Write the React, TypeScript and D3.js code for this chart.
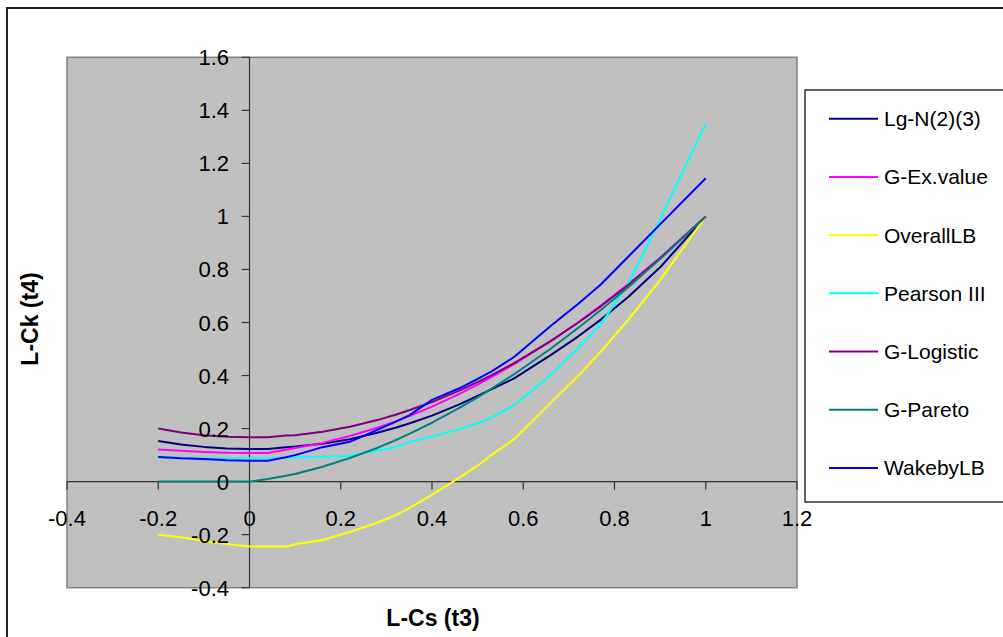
import React from "react";
import * as d3 from "d3";

const T3 = [-0.2, -0.15, -0.1, -0.05, 0, 0.04, 0.08, 0.1, 0.16, 0.22, 0.28, 0.32, 0.35, 0.4, 0.46, 0.5, 0.53, 0.58, 0.66, 0.72, 0.77, 0.83, 0.9, 1.0];

const lgN = [0.153, 0.14, 0.131, 0.125, 0.123, 0.123, 0.13, 0.132, 0.143, 0.16, 0.184, 0.203, 0.219, 0.249, 0.291, 0.323, 0.348, 0.389, 0.477, 0.547, 0.611, 0.696, 0.808, 1.0];
const gExValue = [0.121, 0.116, 0.112, 0.109, 0.108, 0.108, 0.12, 0.127, 0.146, 0.172, 0.203, 0.227, 0.247, 0.283, 0.331, 0.366, 0.394, 0.443, 0.53, 0.6, 0.664, 0.744, 0.844, 1.0];
const overallLB = [-0.2, -0.21, -0.224, -0.235, -0.245, -0.245, -0.245, -0.236, -0.22, -0.19, -0.155, -0.127, -0.1, -0.05, 0.015, 0.06, 0.1, 0.16, 0.297, 0.398, 0.49, 0.61, 0.76, 1.0];
const pearson3 = [0.094, 0.09, 0.088, 0.088, 0.088, 0.088, 0.09, 0.092, 0.094, 0.097, 0.117, 0.13, 0.149, 0.17, 0.198, 0.22, 0.241, 0.288, 0.402, 0.503, 0.594, 0.745, 0.99, 1.35];
const gLogistic = [0.2, 0.185, 0.175, 0.169, 0.167, 0.167, 0.174, 0.175, 0.188, 0.207, 0.232, 0.252, 0.269, 0.3, 0.343, 0.375, 0.401, 0.447, 0.53, 0.599, 0.661, 0.741, 0.842, 1.0];
const gPareto = [0, 0, 0, 0, 0, 0.01, 0.022, 0.029, 0.056, 0.089, 0.127, 0.156, 0.18, 0.222, 0.278, 0.318, 0.35, 0.405, 0.501, 0.579, 0.647, 0.733, 0.839, 1.0];
const wakebyLB = [0.093, 0.088, 0.085, 0.081, 0.079, 0.079, 0.092, 0.1, 0.13, 0.15, 0.195, 0.225, 0.25, 0.308, 0.352, 0.387, 0.415, 0.47, 0.587, 0.67, 0.743, 0.848, 0.97, 1.144];

const seriesNames = ["Lg-N(2)(3)", "G-Ex.value", "OverallLB", "Pearson III", "G-Logistic", "G-Pareto", "WakebyLB"];
const seriesValues = [lgN, gExValue, overallLB, pearson3, gLogistic, gPareto, wakebyLB];
const seriesColors = ["#000080", "#FF00FF", "#FFFF00", "#00FFFF", "#800080", "#008080", "#0000FF"];

const xTicks = [-0.4, -0.2, 0, 0.2, 0.4, 0.6, 0.8, 1, 1.2];
const yTicks = [-0.4, -0.2, 0, 0.2, 0.4, 0.6, 0.8, 1, 1.2, 1.4, 1.6];

const FONT = "'Liberation Sans', Arial, Helvetica, sans-serif";

export default function App() {
  const plotL = 67, plotR = 797, plotT = 57.3, plotB = 587.7;
  const x = d3.scaleLinear().domain([-0.4, 1.2]).range([plotL, plotR]);
  const y = d3.scaleLinear().domain([-0.4, 1.6]).range([plotB, plotT]);
  const line = d3.line<[number, number]>().x((d) => x(d[0])).y((d) => y(d[1]));
  const x0 = x(0), y0 = y(0);

  const legX = 805, legY = 90, legB = 502;
  const legStart = 118.7, legStep = 58.2;

  return (
    <svg width={1003} height={637} style={{ position: "absolute", left: 0, top: 0 }} fontFamily={FONT}>
      <rect x={0} y={0} width={1003} height={637} fill="#fff" />
      <rect x={7} y={8} width={1010} height={650} fill="none" stroke="#222" strokeWidth={2} />
      <rect x={plotL} y={plotT} width={plotR - plotL} height={plotB - plotT} fill="#C0C0C0" stroke="#808080" strokeWidth={1.5} />
      {/* axes */}
      <line x1={plotL} x2={plotR} y1={y0} y2={y0} stroke="#333" strokeWidth={1.2} />
      <line x1={x0} x2={x0} y1={plotT} y2={plotB} stroke="#333" strokeWidth={1.2} />
      {xTicks.map((t) => (
        <line key={"xt" + t} x1={x(t)} x2={x(t)} y1={y0} y2={y0 + 8} stroke="#333" strokeWidth={1.2} />
      ))}
      {yTicks.map((t) => (
        <line key={"yt" + t} x1={x0 - 8} x2={x0} y1={y(t)} y2={y(t)} stroke="#333" strokeWidth={1.2} />
      ))}
      {/* series */}
      {seriesValues.map((vals, i) => (
        <path
          key={seriesNames[i]}
          d={line(T3.map((t, j) => [t, vals[j]] as [number, number])) || ""}
          fill="none"
          stroke={seriesColors[i]}
          strokeWidth={2}
          strokeLinejoin="round"
        />
      ))}
      {/* tick labels */}
      {xTicks.map((t) => (
        <text key={"xl" + t} x={x(t)} y={526} textAnchor="middle" fontSize={22} fill="#000">
          {String(t)}
        </text>
      ))}
      {yTicks.map((t) => (
        <text key={"yl" + t} x={229} y={y(t) + 8} textAnchor="end" fontSize={22} fill="#000">
          {String(t)}
        </text>
      ))}
      {/* axis titles */}
      <text x={433} y={626} textAnchor="middle" fontSize={23} fontWeight="bold" fill="#000">
        L-Cs (t3)
      </text>
      <text transform={`translate(38,319) rotate(-90)`} textAnchor="middle" fontSize={23} fontWeight="bold" fill="#000">
        L-Ck (t4)
      </text>
      {/* legend */}
      <rect x={legX} y={legY} width={300} height={legB - legY} fill="#fff" stroke="#000" strokeWidth={1.2} />
      {seriesNames.map((n, i) => {
        const cy = legStart + i * legStep;
        return (
          <g key={"lg" + n}>
            <line x1={829} x2={878} y1={cy} y2={cy} stroke={seriesColors[i]} strokeWidth={2} />
            <text x={884} y={cy + 7.5} fontSize={21} fill="#000">
              {n}
            </text>
          </g>
        );
      })}
    </svg>
  );
}
